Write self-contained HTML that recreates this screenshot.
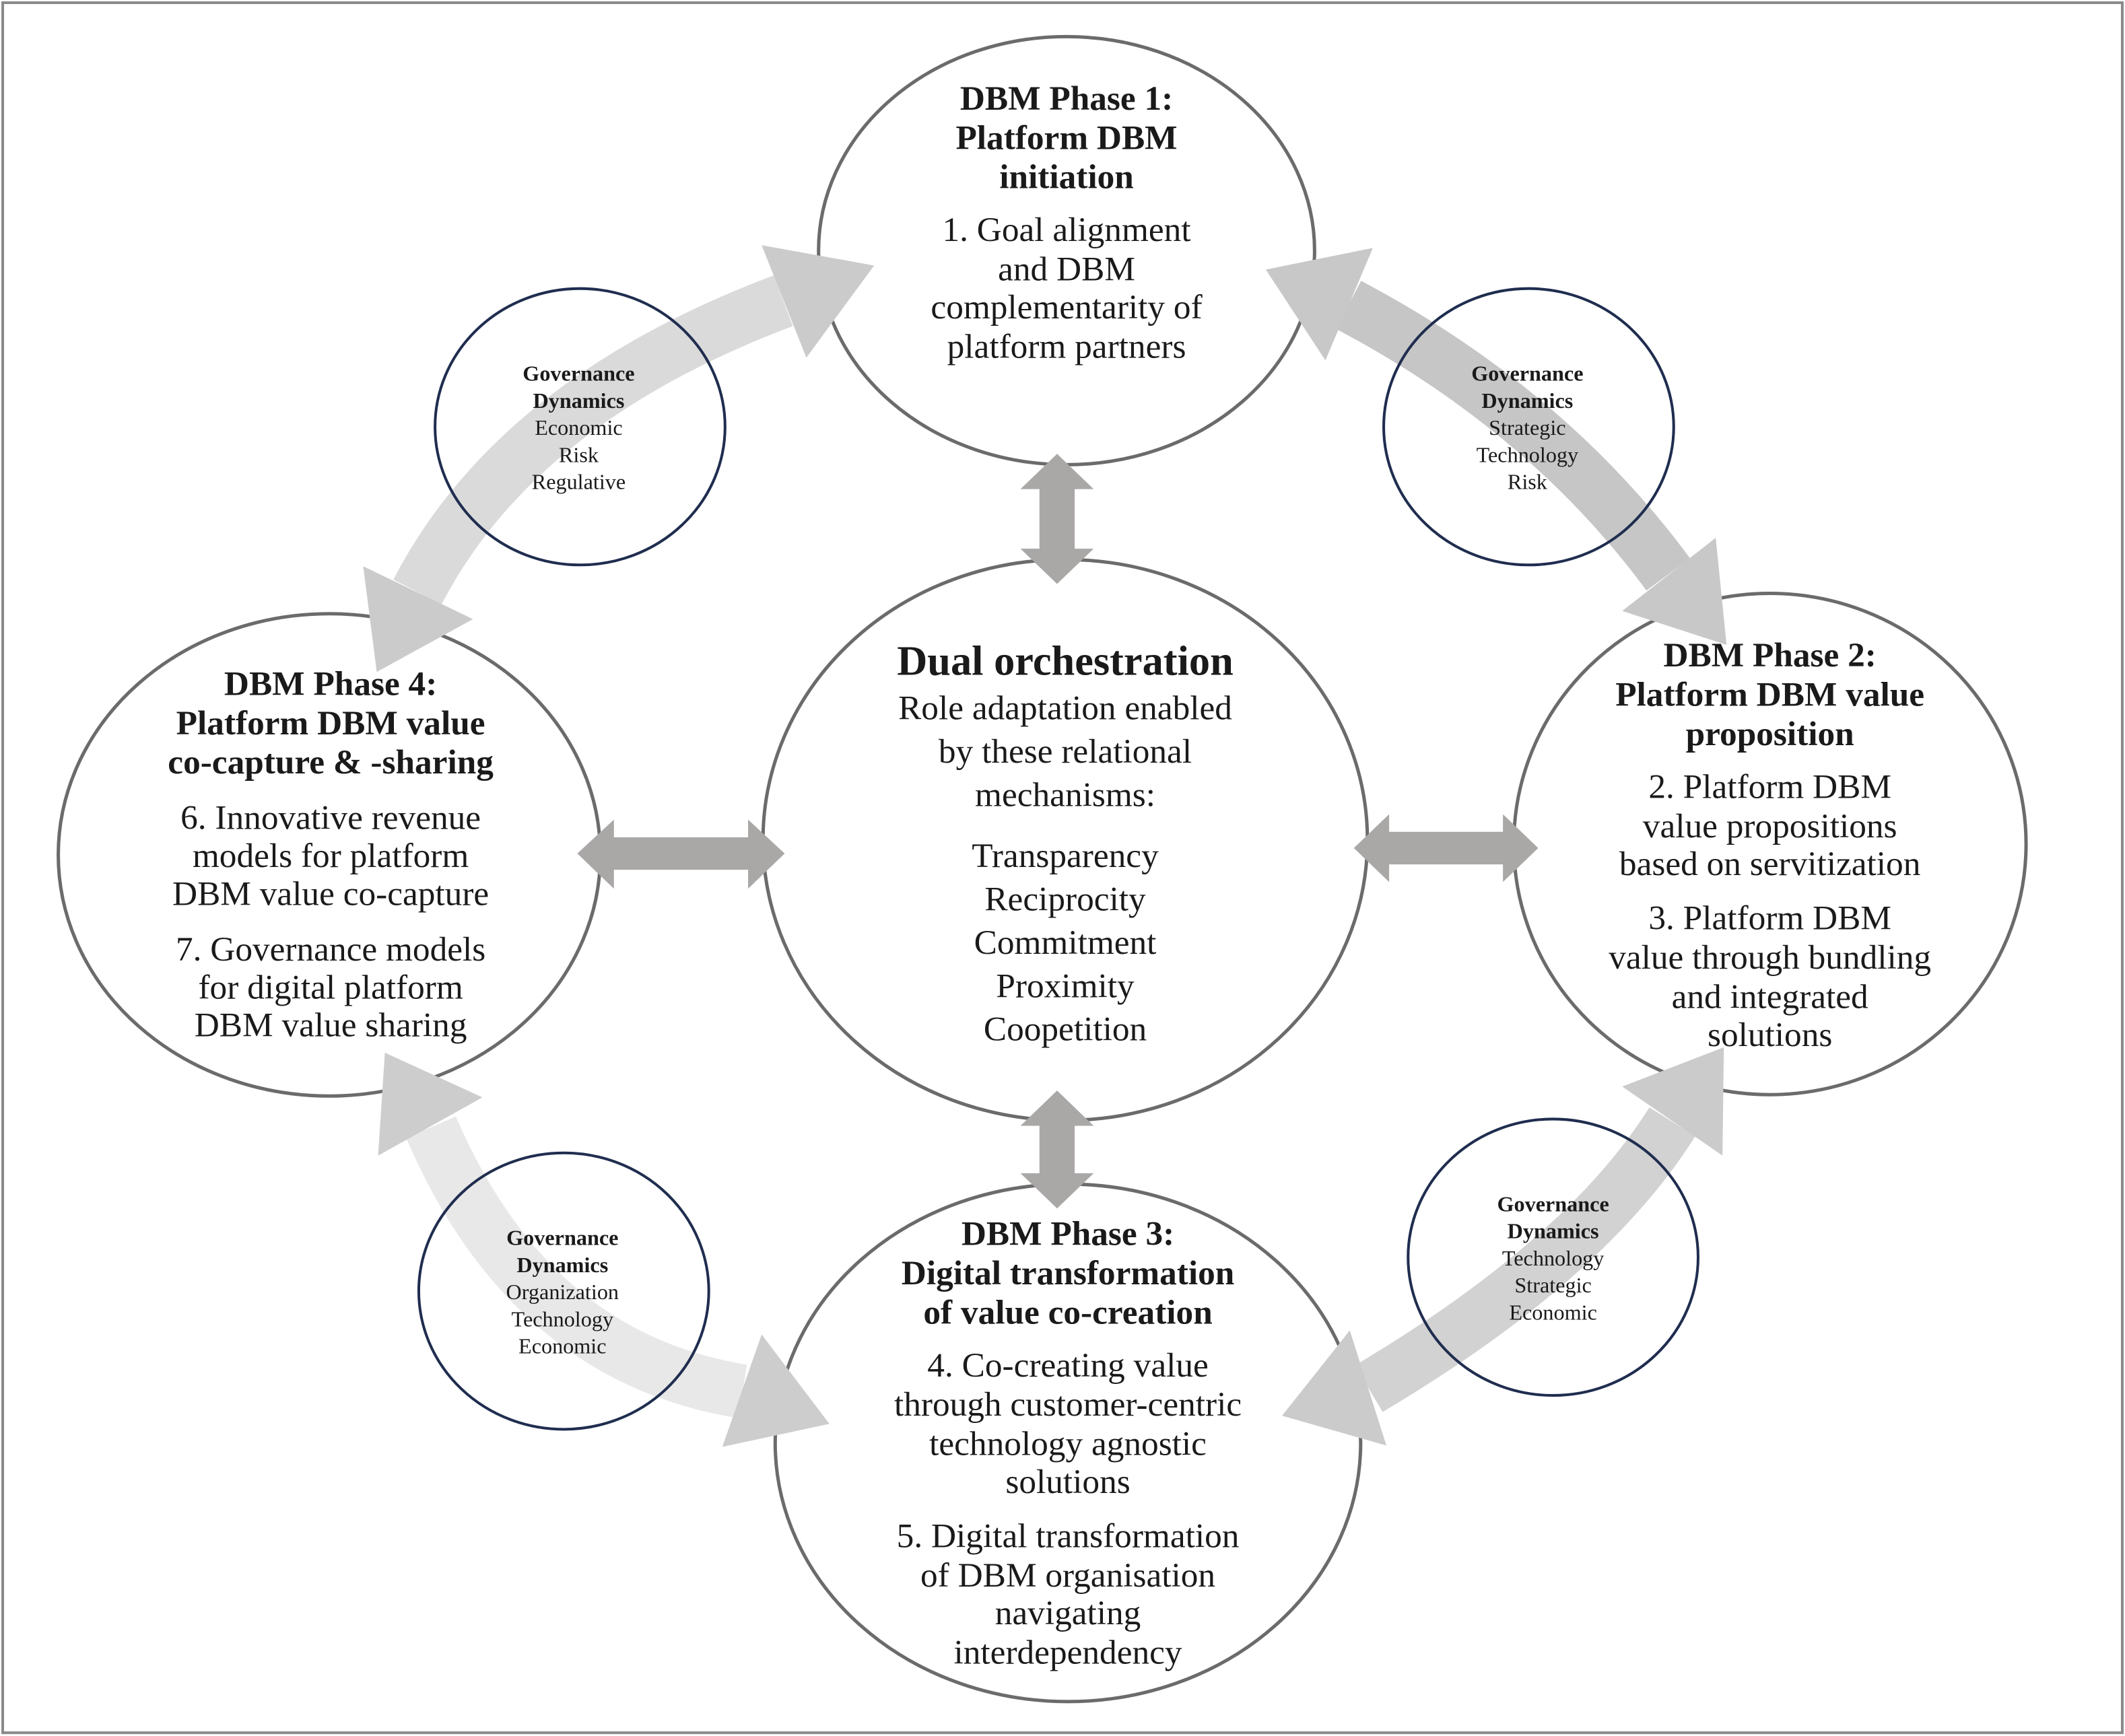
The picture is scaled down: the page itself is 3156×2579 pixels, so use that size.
<!DOCTYPE html>
<html><head><meta charset="utf-8"><style>
html,body{margin:0;padding:0;background:#fff;}
svg{display:block;}
text{font-family:"Liberation Serif","Times New Roman",serif;fill:#1a1a1a;}
.b{font-weight:bold;}
</style></head><body>
<svg width="3156" height="2579" viewBox="0 0 1568 1281.4" preserveAspectRatio="none" xmlns="http://www.w3.org/2000/svg">
<rect x="0" y="0" width="1568" height="1281.4" fill="#fff"/>
<rect x="2" y="2" width="1564" height="1277" fill="none" stroke="#8a8a8a" stroke-width="2"/>

<!-- curved bands -->
<path d="M578,222 Q381,296 308,437" fill="none" stroke="#dadada" stroke-width="40"/>
<path d="M995,225 Q1141,302 1231,424" fill="none" stroke="#c6c6c6" stroke-width="40"/>
<path d="M1234,828 Q1170,930 1010,1025" fill="none" stroke="#d2d2d2" stroke-width="40"/>
<path d="M318,832 Q391,1002 548,1027" fill="none" stroke="#e8e8e8" stroke-width="40"/>

<!-- main circles -->
<g fill="#fff" fill-opacity="0" stroke="#6b6b6b" stroke-width="2.5">
<ellipse cx="787" cy="185" rx="183" ry="158"/>
<ellipse cx="786" cy="620" rx="223" ry="207"/>
<ellipse cx="243" cy="631" rx="200" ry="178"/>
<ellipse cx="1306" cy="623" rx="189" ry="185"/>
<ellipse cx="788" cy="1065" rx="216" ry="191"/>
</g>

<!-- governance circles -->
<g fill="none" stroke="#1f2d4f" stroke-width="2">
<ellipse cx="428" cy="315" rx="107" ry="102"/>
<ellipse cx="1128" cy="315" rx="107" ry="102"/>
<ellipse cx="416" cy="953" rx="107" ry="102"/>
<ellipse cx="1146" cy="928" rx="107" ry="102"/>
</g>

<!-- curved arrow heads -->
<polygon points="645,196 562,181 595,264" fill="#cbcbcb"/>
<polygon points="278,496 268,418 349,457" fill="#cbcbcb"/>
<polygon points="934,199 1013,183 978,266" fill="#c8c8c8"/>
<polygon points="1274,476 1197,451 1266,397" fill="#c8c8c8"/>
<polygon points="1272,773 1197,802 1271,853" fill="#cbcbcb"/>
<polygon points="946,1045 996,982 1023,1067" fill="#cbcbcb"/>
<polygon points="284,777 356,810 279,853" fill="#cdcdcd"/>
<polygon points="612,1051 562,985 533,1068" fill="#cdcdcd"/>

<!-- straight double arrows -->
<g fill="#aaa7a7">
<polygon points="780,335 807,361 793,361 793,405 807,405 780,431 753,405 767,405 767,361 753,361"/>
<polygon points="780,805 807,831 793,831 793,866 807,866 780,892 753,866 767,866 767,831 753,831"/>
<polygon points="426,630 453,605 453,618 552,618 552,605 579,630 552,656 552,642 453,642 453,656"/>
<polygon points="999,626 1025,601 1025,614 1109,614 1109,601 1135,626 1109,651 1109,638 1025,638 1025,651"/>
</g>

<!-- Phase 1 -->
<g text-anchor="middle" font-size="25.5">
<text x="787" y="81" class="b">DBM Phase 1:</text>
<text x="787" y="110" class="b">Platform DBM</text>
<text x="787" y="139" class="b">initiation</text>
<text x="787" y="178">1. Goal alignment</text>
<text x="787" y="207">and DBM</text>
<text x="787" y="235">complementarity of</text>
<text x="787" y="264">platform partners</text>
</g>

<!-- Center -->
<g text-anchor="middle">
<text x="786" y="498" font-size="31" class="b">Dual orchestration</text>
<g font-size="25.5">
<text x="786" y="531">Role adaptation enabled</text>
<text x="786" y="563">by these relational</text>
<text x="786" y="595">mechanisms:</text>
<text x="786" y="640">Transparency</text>
<text x="786" y="672">Reciprocity</text>
<text x="786" y="704">Commitment</text>
<text x="786" y="736">Proximity</text>
<text x="786" y="768">Coopetition</text>
</g>
</g>

<!-- Phase 4 -->
<g text-anchor="middle" font-size="25.5">
<text x="244" y="513" class="b">DBM Phase 4:</text>
<text x="244" y="542" class="b">Platform DBM value</text>
<text x="244" y="571" class="b">co-capture &amp; -sharing</text>
<text x="244" y="612">6. Innovative revenue</text>
<text x="244" y="640">models for platform</text>
<text x="244" y="668">DBM value co-capture</text>
<text x="244" y="709">7. Governance models</text>
<text x="244" y="737">for digital platform</text>
<text x="244" y="765">DBM value sharing</text>
</g>

<!-- Phase 2 -->
<g text-anchor="middle" font-size="25.5">
<text x="1306" y="492" class="b">DBM Phase 2:</text>
<text x="1306" y="521" class="b">Platform DBM value</text>
<text x="1306" y="550" class="b">proposition</text>
<text x="1306" y="589">2. Platform DBM</text>
<text x="1306" y="618">value propositions</text>
<text x="1306" y="646">based on servitization</text>
<text x="1306" y="686">3. Platform DBM</text>
<text x="1306" y="715">value through bundling</text>
<text x="1306" y="744">and integrated</text>
<text x="1306" y="772">solutions</text>
</g>

<!-- Phase 3 -->
<g text-anchor="middle" font-size="25.5">
<text x="788" y="919" class="b">DBM Phase 3:</text>
<text x="788" y="948" class="b">Digital transformation</text>
<text x="788" y="977" class="b">of value co-creation</text>
<text x="788" y="1016">4. Co-creating value</text>
<text x="788" y="1045">through customer-centric</text>
<text x="788" y="1074">technology agnostic</text>
<text x="788" y="1102">solutions</text>
<text x="788" y="1142">5. Digital transformation</text>
<text x="788" y="1171">of DBM organisation</text>
<text x="788" y="1199">navigating</text>
<text x="788" y="1228">interdependency</text>
</g>

<!-- Governance texts -->
<g text-anchor="middle" font-size="16">
<text x="427" y="281" class="b">Governance</text>
<text x="427" y="301" class="b">Dynamics</text>
<text x="427" y="321">Economic</text>
<text x="427" y="341">Risk</text>
<text x="427" y="361">Regulative</text>

<text x="1127" y="281" class="b">Governance</text>
<text x="1127" y="301" class="b">Dynamics</text>
<text x="1127" y="321">Strategic</text>
<text x="1127" y="341">Technology</text>
<text x="1127" y="361">Risk</text>

<text x="415" y="919" class="b">Governance</text>
<text x="415" y="939" class="b">Dynamics</text>
<text x="415" y="959">Organization</text>
<text x="415" y="979">Technology</text>
<text x="415" y="999">Economic</text>

<text x="1146" y="894" class="b">Governance</text>
<text x="1146" y="914" class="b">Dynamics</text>
<text x="1146" y="934">Technology</text>
<text x="1146" y="954">Strategic</text>
<text x="1146" y="974">Economic</text>
</g>
</svg>
</body></html>
